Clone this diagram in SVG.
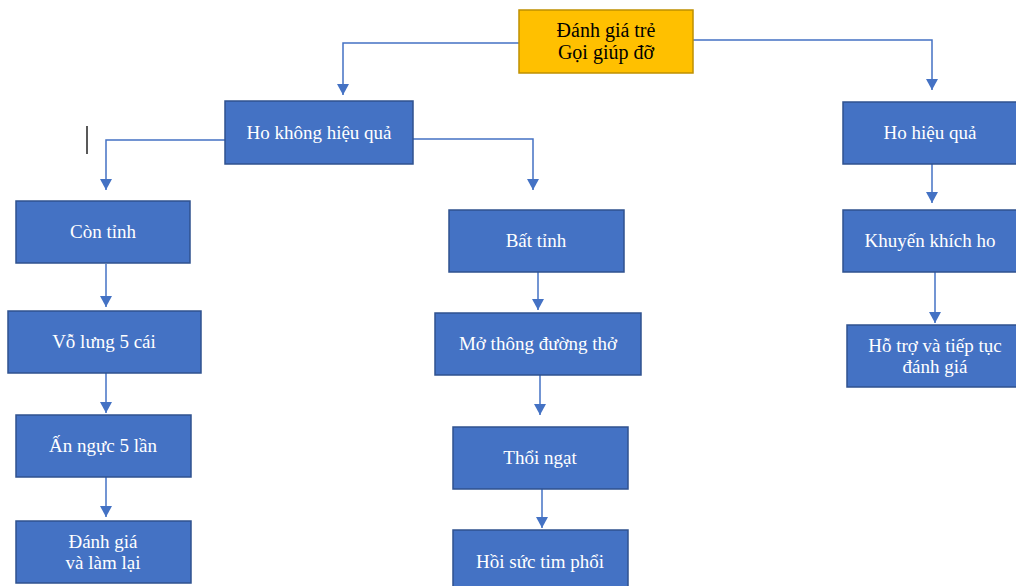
<svg xmlns="http://www.w3.org/2000/svg" width="1016" height="586" viewBox="0 0 1016 586">
<style>
.b{fill:#4472C4;stroke:#2F528F;stroke-width:1.5}
.y{fill:#FFC000;stroke:#BF9000;stroke-width:1.5}
.t{font-family:"Liberation Serif","Times New Roman",serif;font-size:19px;fill:#fff;text-anchor:middle}
.ty{font-family:"Liberation Serif","Times New Roman",serif;font-size:20px;fill:#000;text-anchor:middle}
.c{fill:none;stroke:#4472C4;stroke-width:1.5}
</style>
<defs>
<marker id="a" markerUnits="userSpaceOnUse" markerWidth="14" markerHeight="12" refX="11" refY="6" orient="auto">
<path d="M0,0 L11,6 L0,12 Z" fill="#4472C4"/>
</marker>
</defs>
<rect width="1016" height="586" fill="#fff"/>
<g id="connectors">
<path class="c" d="M519,43 H343 V95" marker-end="url(#a)"/>
<path class="c" d="M693,40 H932 V90" marker-end="url(#a)"/>
<path class="c" d="M225,140 H106 V190" marker-end="url(#a)"/>
<path class="c" d="M413,139 H533 V190" marker-end="url(#a)"/>
<path class="c" d="M106,264 V307" marker-end="url(#a)"/>
<path class="c" d="M106,373 V413" marker-end="url(#a)"/>
<path class="c" d="M106,477 V517" marker-end="url(#a)"/>
<path class="c" d="M538,272 V310" marker-end="url(#a)"/>
<path class="c" d="M540,375 V415" marker-end="url(#a)"/>
<path class="c" d="M542,489 V528" marker-end="url(#a)"/>
<path class="c" d="M932,164 V203" marker-end="url(#a)"/>
<path class="c" d="M935,272 V323" marker-end="url(#a)"/>
</g>
<line x1="87" y1="126" x2="87" y2="154" stroke="#222" stroke-width="1.5"/>
<g id="n-top"><rect class="y" x="519" y="10" width="174" height="63"/><text class="ty" x="606" y="37">Đánh giá trẻ</text><text class="ty" x="606" y="59">Gọi giúp đỡ</text></g>
<g id="n-hokhong"><rect class="b" x="225" y="101" width="188" height="63"/><text class="t" x="319" y="139">Ho không hiệu quả</text></g>
<g id="n-hohieu"><rect class="b" x="843" y="102" width="176" height="62"/><text class="t" x="930" y="139">Ho hiệu quả</text></g>
<g id="n-continh"><rect class="b" x="16" y="201" width="174" height="62"/><text class="t" x="103" y="238">Còn tỉnh</text></g>
<g id="n-volung"><rect class="b" x="8" y="311" width="193" height="62"/><text class="t" x="104" y="348">Vỗ lưng 5 cái</text></g>
<g id="n-annguc"><rect class="b" x="16" y="415" width="175" height="62"/><text class="t" x="103" y="452">Ấn ngực 5 lần</text></g>
<g id="n-danhgia"><rect class="b" x="16" y="521" width="175" height="62"/><text class="t" x="103" y="548">Đánh giá</text><text class="t" x="103" y="569">và làm lại</text></g>
<g id="n-battinh"><rect class="b" x="449" y="210" width="175" height="62"/><text class="t" x="536" y="247">Bất tỉnh</text></g>
<g id="n-mothong"><rect class="b" x="435" y="313" width="206" height="62"/><text class="t" x="538" y="350">Mở thông đường thở</text></g>
<g id="n-thoingat"><rect class="b" x="453" y="427" width="175" height="62"/><text class="t" x="540" y="464">Thổi ngạt</text></g>
<g id="n-hoisuc"><rect class="b" x="453" y="530" width="175" height="62"/><text class="t" x="540" y="568">Hồi sức tim phổi</text></g>
<g id="n-khuyen"><rect class="b" x="843" y="210" width="176" height="62"/><text class="t" x="930" y="247">Khuyến khích ho</text></g>
<g id="n-hotro"><rect class="b" x="847" y="325" width="178" height="62"/><text class="t" x="935" y="352">Hỗ trợ và tiếp tục</text><text class="t" x="935" y="373">đánh giá</text></g>
</svg>
